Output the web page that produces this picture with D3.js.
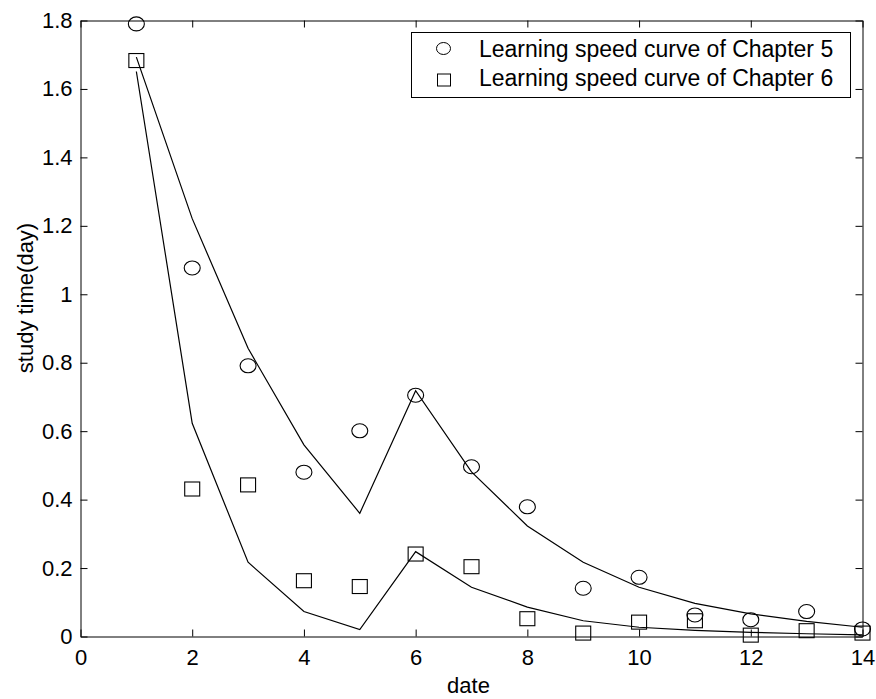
<!DOCTYPE html>
<html>
<head>
<meta charset="utf-8">
<script src="https://cdn.jsdelivr.net/npm/d3@7"></script>
<style>
  body { margin: 0; background: #fff; }
  svg text { font-family: "Liberation Sans", Arial, sans-serif; fill: #000; }
</style>
</head>
<body>
<div id="plot"></div>
<script>
// dates 1..14
var dates = [1, 2, 3, 4, 5, 6, 7, 8, 9, 10, 11, 12, 13, 14];
// observed study time, chapter 5 (circles) and chapter 6 (squares)
var ch5Points = [1.79, 1.077, 0.791, 0.480, 0.601, 0.705, 0.496, 0.379, 0.141, 0.173, 0.063, 0.049, 0.073, 0.022];
var ch6Points = [1.683, 0.431, 0.443, 0.163, 0.146, 0.241, 0.204, 0.052, 0.010, 0.042, 0.046, 0.004, 0.017, 0.010];
// fitted curves
var ch5Curve = [1.693, 1.221, 0.842, 0.560, 0.360, 0.718, 0.481, 0.323, 0.217, 0.144, 0.097, 0.066, 0.044, 0.027];
var ch6Curve = [1.651, 0.623, 0.217, 0.073, 0.020, 0.248, 0.144, 0.086, 0.046, 0.027, 0.018, 0.012, 0.008, 0.005];
var xTicks = [0, 2, 4, 6, 8, 10, 12, 14];
var yTicks = [0, 0.2, 0.4, 0.6, 0.8, 1, 1.2, 1.4, 1.6, 1.8];
var legendLabels = ['Learning speed curve of Chapter 5', 'Learning speed curve of Chapter 6'];

const width = 876, height = 699;
const padL = 80.5, padR = 862.5, padT = 20.5, padB = 636.5;

const svg = d3.select('#plot').append('svg')
    .attr('width', width)
    .attr('height', height);

var xScale = d3.scaleLinear().domain([0, 14]).range([padL, padR]);
var yScale = d3.scaleLinear().domain([0, 1.8]).range([padB, padT]);

function styleAxis(g){
    g.selectAll('path').attr('stroke', '#000');
    g.selectAll('line').attr('stroke', '#000');
    g.selectAll('text').style('font-size', '22px');
}

svg.append('g')
    .attr('transform', 'translate(0,' + padB + ')')
    .call(d3.axisBottom(xScale).tickValues(xTicks).tickFormat(d3.format('d'))
        .tickSizeInner(-7).tickSizeOuter(0).tickPadding(13))
    .call(styleAxis);
svg.append('g')
    .attr('transform', 'translate(' + padL + ',0)')
    .call(d3.axisLeft(yScale).tickValues(yTicks).tickFormat(d => d3.format('~g')(d))
        .tickSizeInner(-7).tickSizeOuter(0).tickPadding(8))
    .call(styleAxis);
svg.append('g')
    .attr('transform', 'translate(0,' + padT + ')')
    .call(d3.axisTop(xScale).tickValues(xTicks).tickFormat('')
        .tickSizeInner(-7).tickSizeOuter(0))
    .call(styleAxis);
svg.append('g')
    .attr('transform', 'translate(' + padR + ',0)')
    .call(d3.axisRight(yScale).tickValues(yTicks).tickFormat('')
        .tickSizeInner(-7).tickSizeOuter(0))
    .call(styleAxis);

svg.append('text')
    .attr('x', (padL + padR) / 2 - 3)
    .attr('y', 693)
    .attr('text-anchor', 'middle')
    .style('font-size', '22px')
    .text('date');
svg.append('text')
    .attr('transform', 'translate(33,298) rotate(-90)')
    .attr('text-anchor', 'middle')
    .style('font-size', '22px')
    .text('study time(day)');

var line = d3.line().x((d, i) => xScale(dates[i])).y(d => yScale(d));
[ch5Curve, ch6Curve].forEach(function(c){
    svg.append('path')
        .datum(c)
        .attr('d', line)
        .attr('fill', 'none')
        .attr('stroke', '#000')
        .attr('stroke-width', 1.2);
});

svg.selectAll('.circ')
    .data(ch5Points)
    .join('ellipse')
    .attr('class', 'circ')
    .attr('cx', (d, i) => xScale(dates[i]))
    .attr('cy', d => yScale(d))
    .attr('rx', 8)
    .attr('ry', 7)
    .attr('fill', 'none')
    .attr('stroke', '#000')
    .attr('stroke-width', 1.1);

svg.selectAll('.sq')
    .data(ch6Points)
    .join('rect')
    .attr('class', 'sq')
    .attr('x', (d, i) => xScale(dates[i]) - 7.5)
    .attr('y', d => yScale(d) - 7)
    .attr('width', 15)
    .attr('height', 14)
    .attr('fill', 'none')
    .attr('stroke', '#000')
    .attr('stroke-width', 1.1);

// legend
var legend = svg.append('g');
legend.append('rect')
    .attr('x', 411.5).attr('y', 32.5)
    .attr('width', 439).attr('height', 65)
    .attr('fill', '#fff')
    .attr('stroke', '#000');
legend.append('ellipse')
    .attr('cx', 443.5).attr('cy', 48.5)
    .attr('rx', 7).attr('ry', 6)
    .attr('fill', 'none').attr('stroke', '#000');
legend.append('rect')
    .attr('x', 437.5).attr('y', 74)
    .attr('width', 13).attr('height', 12)
    .attr('fill', 'none').attr('stroke', '#000');
legendLabels.forEach(function(t, i){
    legend.append('text')
        .attr('x', 479)
        .attr('y', 57 + i * 28.5)
        .style('font-size', '23px')
        .text(t);
});
</script>
</body>
</html>
